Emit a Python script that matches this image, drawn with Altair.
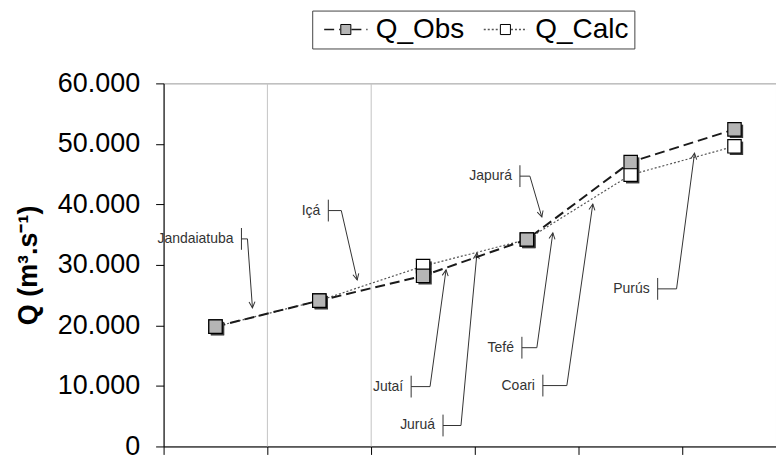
import math
import altair as alt
import pandas as pd

# ---- data ----
x_pos = [0.5, 1.5, 2.5, 3.5, 4.5, 5.5]
q_obs = [19800, 24100, 28200, 34200, 47000, 52400]
q_calc = [19800, 24100, 29800, 34200, 44900, 49600]
series_names = ["Q_Obs", "Q_Calc"]

x_ticks = [0, 1, 2, 3, 4, 5]
grid_x = [1, 2]
y_ticks = [0, 10000, 20000, 30000, 40000, 50000, 60000]

# callouts (tributaries): label, bar position, elbow, arrow tip (data units)
ann_labels = ["Jandaiatuba", "Içá", "Jutaí", "Juruá", "Japurá", "Tefé", "Coari", "Purús"]
ann_bar_x = [0.750, 1.587, 2.385, 2.692, 3.433, 3.452, 3.654, 4.760]
ann_mid_y = [34300, 38980, 9890, 3460, 44670, 16320, 10060, 26040]
ann_elbow_x = [0.808, 1.712, 2.567, 2.865, 3.529, 3.596, 3.885, 4.942]
ann_tip_x = [0.856, 1.865, 2.721, 3.019, 3.644, 3.750, 4.135, 5.115]
ann_tip_y = [22910, 27530, 29180, 31980, 37910, 35280, 40060, 48460]
ann_half_bar = 1800

FONT = "Liberation Sans"
W, H = 614, 364
X_DOMAIN = [0, 5.9]
Y_DOMAIN = [0, 60000]
px_per_x = W / (X_DOMAIN[1] - X_DOMAIN[0])
px_per_y = H / (Y_DOMAIN[1] - Y_DOMAIN[0])

# ---- tables ----
rows = []
for s, vals in (("Q_Calc", q_calc), ("Q_Obs", q_obs)):
    for i, (xv, qv) in enumerate(zip(x_pos, vals)):
        rows.append({"x": xv, "q": qv, "series": s, "order": i})
df = pd.DataFrame(rows)

seg_rows = []
for lab, bx, my, ex, tx, ty in zip(ann_labels, ann_bar_x, ann_mid_y, ann_elbow_x, ann_tip_x, ann_tip_y):
    seg_rows.append({"x": bx, "y": my - ann_half_bar, "x2": bx, "y2": my + ann_half_bar})
    seg_rows.append({"x": bx, "y": my, "x2": ex, "y2": my})
    seg_rows.append({"x": ex, "y": my, "x2": tx, "y2": ty})
seg_df = pd.DataFrame(seg_rows)

tip_rows = []
for ex, my, tx, ty in zip(ann_elbow_x, ann_mid_y, ann_tip_x, ann_tip_y):
    dx = (tx - ex) * px_per_x
    dy = -(ty - my) * px_per_y
    ang = math.degrees(math.atan2(dx, -dy)) % 360
    tip_rows.append({"x": tx, "y": ty, "angle": ang})
tip_df = pd.DataFrame(tip_rows)

lab_df = pd.DataFrame({"x": ann_bar_x, "y": ann_mid_y, "label": ann_labels})
grid_df = pd.DataFrame({"x": grid_x})

Y_TITLE = "Q (m³.s⁻¹)"

def xe(field):
    return alt.X(field, type="quantitative",
                 scale=alt.Scale(domain=X_DOMAIN, nice=False, zero=False),
                 axis=alt.Axis(values=x_ticks, labels=False, ticks=True, tickSize=8,
                               tickColor="black", domainColor="black", grid=False,
                               title=None))

def ye(field):
    return alt.Y(field, type="quantitative",
                 scale=alt.Scale(domain=Y_DOMAIN, nice=False),
                 axis=alt.Axis(values=y_ticks, grid=False, tickSize=8, tickColor="black",
                               domainColor="black",
                               labelExpr="replace(format(datum.value, ','), ',', '.')",
                               labelFontSize=27, labelFont=FONT, labelColor="black",
                               labelPadding=16, title=Y_TITLE, titleFont=FONT,
                               titleFontSize=27, titleFontWeight="bold",
                               titleColor="black", titlePadding=15))

LEG_X, LEG_Y = 149, -73
common_leg = dict(title=None, orient="none", legendX=LEG_X, legendY=LEG_Y,
                  direction="horizontal", symbolSize=196, symbolOffset=14.7,
                  labelOffset=16, labelFontSize=28, labelFont=FONT,
                  columnPadding=12, padding=5)

leg_line = alt.Legend(symbolType="M-3.1,0H-0.8M0.8,0H3.1", symbolStrokeWidth=1.6,
                      labelColor="black", strokeColor="#444", **common_leg)
leg_pt = alt.Legend(symbolType="M-0.72,-0.72H0.72V0.72H-0.72Z", symbolStrokeColor="black",
                    symbolStrokeWidth=1, labelOpacity=0, **common_leg)

grid = alt.Chart(grid_df).mark_rule(color="#c4c4c4", strokeWidth=1).encode(x=xe("x"))

lines = alt.Chart(df).mark_line().encode(
    x=xe("x"), y=ye("q"),
    order="order:Q",
    stroke=alt.Stroke("series:N", scale=alt.Scale(domain=series_names, range=["#1a1a1a", "#555555"]),
                      legend=leg_line),
    strokeDash=alt.StrokeDash("series:N", scale=alt.Scale(domain=series_names, range=[[10, 5], [2, 2]]),
                              legend=leg_line),
    strokeWidth=alt.condition(alt.datum.series == "Q_Obs", alt.value(2), alt.value(1.2)),
)

shadow = alt.Chart(df).mark_point(shape="square", filled=True, size=180, color="#3a3a3a",
                                  opacity=1, xOffset=2, yOffset=2).encode(x=xe("x"), y=ye("q"))

points = alt.Chart(df).mark_point(shape="square", filled=True, size=180, stroke="black",
                                  strokeWidth=1.2, opacity=1).encode(
    x=xe("x"), y=ye("q"),
    fill=alt.Fill("series:N", scale=alt.Scale(domain=series_names, range=["#b5b5b5", "#ffffff"]),
                  legend=leg_pt),
)

segs = alt.Chart(seg_df).mark_rule(color="#333333", strokeWidth=1).encode(
    x=xe("x"), y=ye("y"), x2="x2:Q", y2="y2:Q")

arrows = alt.Chart(tip_df).mark_point(shape="M-0.5,1L0,0L0.5,1", filled=False, size=144,
                                      stroke="#333333", strokeWidth=1, opacity=1).encode(
    x=xe("x"), y=ye("y"), angle=alt.Angle("angle:Q", scale=None))

labels = alt.Chart(lab_df).mark_text(align="right", baseline="middle", dx=-8, fontSize=14,
                                     font=FONT, color="#333333").encode(
    x=xe("x"), y=ye("y"), text="label:N")

chart = alt.layer(grid, segs, arrows, labels, lines, shadow, points).resolve_legend(
    fill="independent", stroke="independent", strokeDash="independent"
).properties(
    width=W, height=H,
    padding={"left": 156, "top": 75, "right": 0, "bottom": 8},
    autosize=alt.AutoSizeParams(type="none"),
).configure_view(stroke="#9a9a9a", strokeWidth=1)

chart.save("out.html", embed_options={"renderer": "svg", "actions": False})
